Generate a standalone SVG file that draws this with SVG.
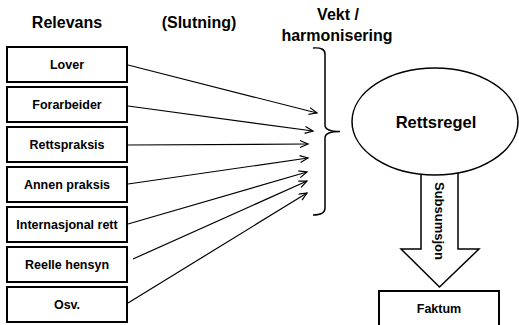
<svg xmlns="http://www.w3.org/2000/svg" width="519" height="325" viewBox="0 0 519 325">
<style>
  .t { font-family: "Liberation Sans", Arial, sans-serif; font-weight: bold; fill: #000; text-anchor: middle; }
  .h { font-size: 16px; }
  .b { font-size: 12.5px; }
  .box { fill: #fff; stroke: #000; stroke-width: 2; }
  .ln { fill: none; stroke: #000; stroke-width: 1.2; marker-end: url(#ah); }
  .br { fill: none; stroke: #000; stroke-width: 1.5; }
</style>
<defs>
  <marker id="ah" markerUnits="userSpaceOnUse" markerWidth="12" markerHeight="10" refX="9" refY="4" orient="auto">
    <path d="M1,0.5 L9,4 L1,7.5" fill="none" stroke="#000" stroke-width="1.2"/>
  </marker>
</defs>
<rect width="519" height="325" fill="#fff"/>
<g id="headers">
  <text class="t h" x="67" y="28">Relevans</text>
  <text class="t h" x="199" y="28">(Slutning)</text>
  <text class="t h" x="338" y="20">Vekt /</text>
  <text class="t h" x="337" y="41">harmonisering</text>
</g>
<g id="lover"><rect class="box" x="7" y="47" width="120" height="35"/><text class="t b" x="67" y="69">Lover</text></g>
<g id="forarbeider"><rect class="box" x="7" y="87" width="120" height="35"/><text class="t b" x="67" y="109">Forarbeider</text></g>
<g id="rettspraksis"><rect class="box" x="7" y="127" width="120" height="35"/><text class="t b" x="67" y="149">Rettspraksis</text></g>
<g id="annen"><rect class="box" x="7" y="167" width="120" height="35"/><text class="t b" x="67" y="189">Annen praksis</text></g>
<g id="internasjonal"><rect class="box" x="7" y="207" width="120" height="35"/><text class="t b" x="67" y="229">Internasjonal rett</text></g>
<g id="reelle"><rect class="box" x="7" y="247" width="120" height="35"/><text class="t b" x="67" y="269">Reelle hensyn</text></g>
<g id="osv"><rect class="box" x="7" y="287" width="120" height="35"/><text class="t b" x="67" y="309">Osv.</text></g>
<g id="connectors">
  <line class="ln" x1="128" y1="65" x2="317" y2="113"/>
  <line class="ln" x1="128" y1="106" x2="313" y2="131"/>
  <line class="ln" x1="128" y1="145" x2="308" y2="144"/>
  <line class="ln" x1="128" y1="184" x2="308" y2="158"/>
  <line class="ln" x1="128" y1="224" x2="307" y2="172"/>
  <line class="ln" x1="133" y1="259" x2="307" y2="181"/>
  <line class="ln" x1="128" y1="303" x2="307" y2="193"/>
</g>
<g id="brace">
  <path class="br" d="M313,48 Q325,47 325,54 L325,125 Q325,131.5 340,131.5 Q325,131.5 325,138 L325,208 Q325,215 313,215"/>
</g>
<g id="subsumsjon">
  <path d="M421,165 L458,165 L458,249 L479,249 L439.5,287 L401,249 L421,249 Z" fill="#fff" stroke="#000" stroke-width="1.5" stroke-linejoin="miter"/>
  <text class="t" style="font-size:13px" transform="translate(435,221) rotate(90)" x="0" y="0">Subsumsjon</text>
</g>
<g id="rettsregel">
  <ellipse cx="435" cy="121.5" rx="83" ry="53.5" fill="#fff" stroke="#000" stroke-width="1.5"/>
  <text class="t" style="font-size:16.5px" x="436" y="128">Rettsregel</text>
</g>
<g id="faktum">
  <rect class="box" x="379" y="291" width="120" height="45" stroke-width="1.5"/>
  <text class="t b" x="439" y="313">Faktum</text>
</g>
</svg>
